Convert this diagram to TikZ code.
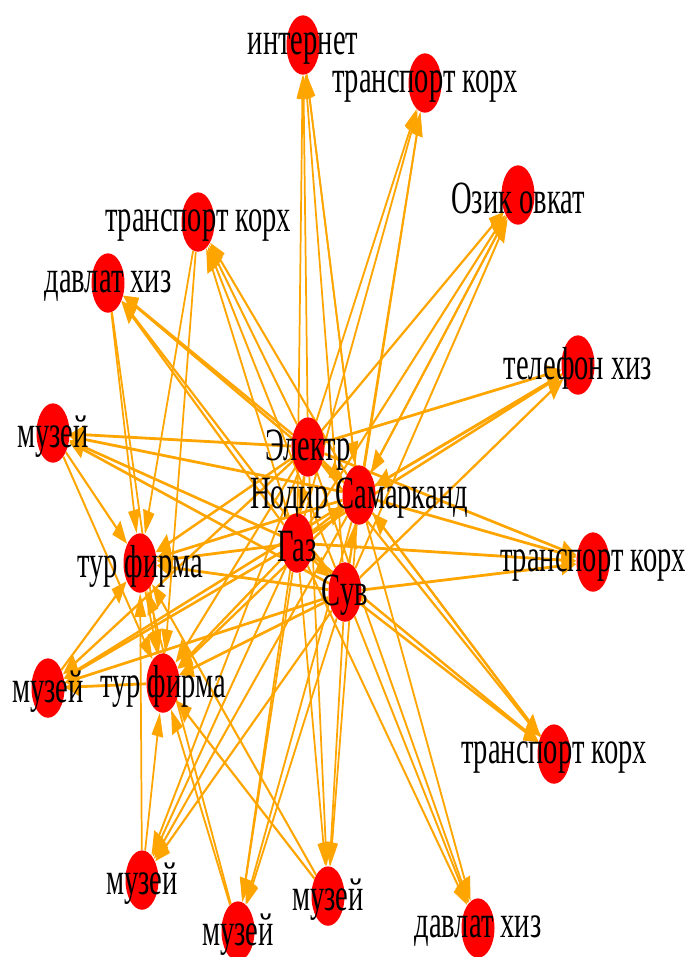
\documentclass[tikz,border=0pt]{standalone}
\usepackage{fontspec}
\setmainfont{Liberation Serif}
\usetikzlibrary{arrows.meta,shapes.geometric}
\pgfdeclarelayer{background}
\pgfsetlayers{background,main}
\definecolor{edgeorange}{RGB}{255,165,0}
\definecolor{nodered}{RGB}{255,0,0}
\tikzset{
  dot/.style={ellipse, fill=nodered, inner sep=0pt, minimum width=24.75pt, minimum height=27.5pt},
  lbl/.style={font=\fontsize{21.4pt}{24pt}\selectfont, inner sep=0pt, text=black, yshift=-1.5pt},
  edge/.style={draw=edgeorange, line width=1.3pt, -{Triangle[length=11pt,width=8.5pt]}},
  canvas/.style={transform canvas={yscale=1.62}, x=0.75pt, y=-0.463pt}
}
\begin{document}
\begin{tikzpicture}
\useasboundingbox (0,0) rectangle (518.25pt,-717.75pt);
\begin{scope}[canvas]
  \node[dot] (inet)  at (303,45)  {};
  \node[dot] (trTR)  at (425,83)  {};
  \node[dot] (ozik)  at (518,195) {};
  \node[dot] (trTL)  at (198,222) {};
  \node[dot] (davTL) at (108,283) {};
  \node[dot] (tel)   at (578,365) {};
  \node[dot] (muzTL) at (53,433)  {};
  \node[dot] (E)     at (308,447) {};
  \node[dot] (N)     at (359,495) {};
  \node[dot] (G)     at (297,543) {};
  \node[dot] (tfA)   at (140,563) {};
  \node[dot] (trRM)  at (593,562) {};
  \node[dot] (S)     at (345,592) {};
  \node[dot] (muzLB) at (48,688)  {};
  \node[dot] (tfB)   at (163,683) {};
  \node[dot] (trRB)  at (554,754) {};
  \node[dot] (muzBa) at (142,880) {};
  \node[dot] (muzBc) at (328,896) {};
  \node[dot] (muzBb) at (238,931) {};
  \node[dot] (davB)  at (478,928) {};
  \node[lbl] (inet-l)  at (inet)  {интернет};
  \node[lbl] (trTR-l)  at (trTR)  {транспорт корх};
  \node[lbl] (ozik-l)  at (ozik)  {Озик овкат};
  \node[lbl] (trTL-l)  at (trTL)  {транспорт корх};
  \node[lbl] (davTL-l) at (davTL) {давлат хиз};
  \node[lbl] (tel-l)   at (tel)   {телефон хиз};
  \node[lbl] (muzTL-l) at (muzTL) {музей};
  \node[lbl] (E-l)     at (E)     {Электр};
  \node[lbl] (N-l)     at (N)     {Нодир Самарканд};
  \node[lbl] (G-l)     at (G)     {Газ};
  \node[lbl] (tfA-l)   at (tfA)   {тур фирма};
  \node[lbl] (trRM-l)  at (trRM)  {транспорт корх};
  \node[lbl] (S-l)     at (S)     {Сув};
  \node[lbl] (muzLB-l) at (muzLB) {музей};
  \node[lbl] (tfB-l)   at (tfB)   {тур фирма};
  \node[lbl] (trRB-l)  at (trRB)  {транспорт корх};
  \node[lbl] (muzBa-l) at (muzBa) {музей};
  \node[lbl] (muzBc-l) at (muzBc) {музей};
  \node[lbl] (muzBb-l) at (muzBb) {музей};
  \node[lbl] (davB-l)  at (davB)  {давлат хиз};
\end{scope}
\begin{pgfonlayer}{background}
  \fill[white] (0,0) rectangle (518.25pt,-717.75pt);
  \begin{scope}[canvas]
    \foreach \s in {E,N,G,S}{
      \foreach \t in {inet,trTR,ozik,trTL,davTL,tel,muzTL,tfA,muzLB,tfB,trRM,trRB,muzBa,muzBb,muzBc,davB}{
        \draw[edge] (\s) -- (\t);
      }
    }
    \foreach \s/\t in {trTL/tfA,trTL/tfB,davTL/tfA,davTL/tfB,muzTL/tfA,muzTL/tfB,muzLB/tfA,
                       muzBa/tfA,muzBa/tfB,muzBb/tfA,muzBb/tfB,muzBc/tfA,muzBc/tfB,tfB/muzLB,tfA/tfB,
                       E/N,G/N,S/N,G/S,E/G,inet/N,ozik/N,tel/N,trRB/N}{
      \draw[edge] (\s) -- (\t);
    }
  \end{scope}
\end{pgfonlayer}
\end{tikzpicture}
\end{document}
